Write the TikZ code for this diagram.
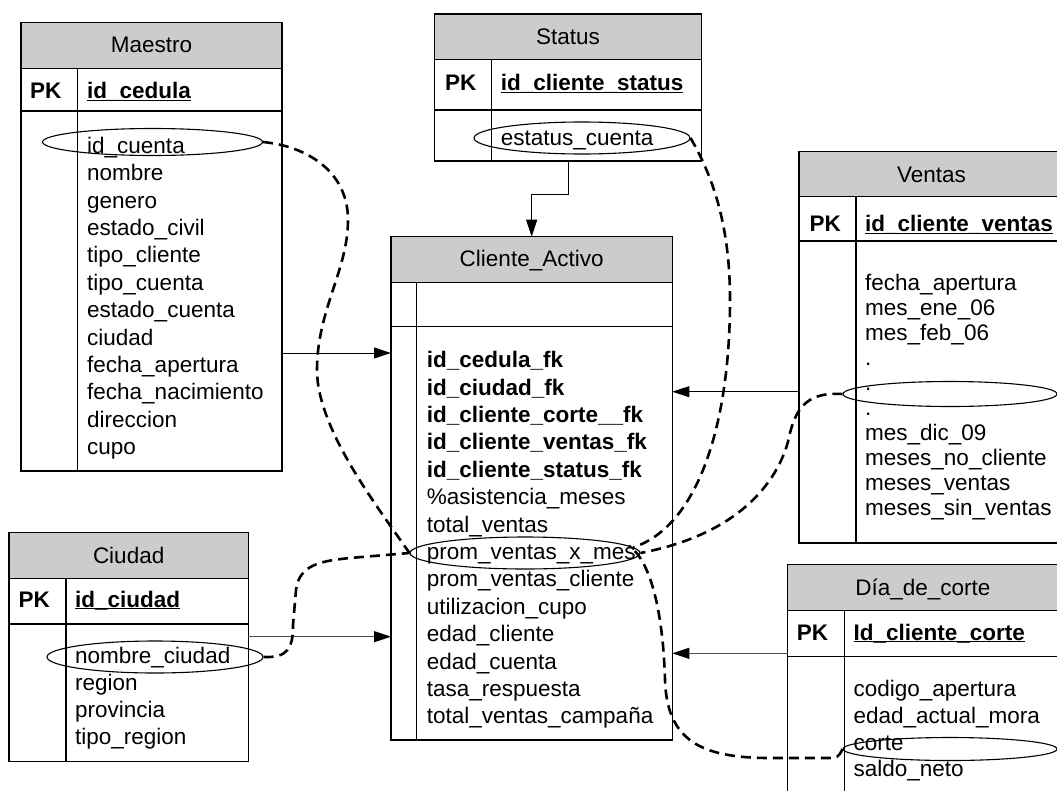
\documentclass[tikz,border=0pt]{standalone}
\usepackage{fontspec}
\setmainfont{Liberation Sans}
\usetikzlibrary{arrows.meta,shapes.geometric}

% primary-key field: bold and underlined
\newcommand\pkfield[1]{\underline{\smash{\textbf{#1}}}}

\tikzset{
  erframe/.style={draw=black, line width=1.3pt, inner sep=0pt, outer sep=0pt},
  erhead/.style={fill=black!20},
  erline/.style={line width=1.3pt},
  ertitle/.style={anchor=base, inner sep=0pt, font=\fontsize{22.5}{27}\selectfont},
  erfield/.style={anchor=base west, inner sep=0pt, font=\fontsize{22.5}{27}\selectfont},
  erkey/.style={anchor=base west, inner sep=0pt, font=\fontsize{22.5}{27}\selectfont\bfseries},
  erhl/.style={draw, ellipse, line width=1.1pt, inner sep=0pt},
  erfk/.style={line width=1pt, -{Triangle[length=17pt,width=11pt]}},
  erfkgray/.style={line width=1pt, draw=black!70, -{Triangle[length=17pt,width=11pt,color=black]}},
  erlink/.style={line width=2.6pt, dash pattern=on 10pt off 6pt},
}

% table frame: name, left, top, right, header bottom, key row bottom, bottom, divider x
\newcommand\erbox[8]{%
  \fill[erhead] (#2,#3) rectangle (#4,#5);
  \draw[erline] (#2,#5) -- (#4,#5) (#2,#6) -- (#4,#6) (#8,#5) -- (#8,#7);
  \node[erframe, minimum width={(#4-#2)*1pt}, minimum height={(#7-#3)*1pt}]
    (#1) at ({(#2+#4)/2},{(#3+#7)/2}) {};
}

\begin{document}
\begin{tikzpicture}[x=1pt,y=-1pt]
\useasboundingbox (0,0) rectangle (1057,790);
\clip (0,0) rectangle (1057,790);

% ---------- Maestro ----------
\erbox{maestro}{21}{22.7}{282}{68.3}{111}{471}{77.7}
\node[ertitle] (maestro-t) at (151.5,52.7) {Maestro};
\node[erkey] (maestro-pk) at (30,98.3) {PK};
\node[erfield] (maestro-id) at (87,98.3) {\pkfield{id\_cedula}};
\foreach \t [count=\i from 0] in {id\_cuenta,nombre,genero,estado\_civil,tipo\_cliente,tipo\_cuenta,estado\_cuenta,ciudad,fecha\_apertura,fecha\_nacimiento,direccion,cupo}
  \node[erfield] (maestro-f\i) at (87,{153.3+27.4*\i}) {\t};

% ---------- Status ----------
\erbox{status}{434.3}{14}{701.7}{59.3}{110}{161}{491.7}
\node[ertitle] (status-t) at (568,44.3) {Status};
\node[erkey] (status-pk) at (445,90.7) {PK};
\node[erfield] (status-id) at (500.7,90.7) {\pkfield{id\_cliente\_status}};
\node[erfield] (status-f0) at (500.7,145.7) {estatus\_cuenta};

% ---------- Cliente_Activo ----------
\erbox{cli}{391}{236.7}{672.3}{282.3}{326.7}{740}{416.7}
\node[ertitle] (cli-t) at (531.65,266.7) {Cliente\_Activo};
\foreach \t [count=\i from 0] in {id\_cedula\_fk,id\_ciudad\_fk,id\_cliente\_corte\_\_fk,id\_cliente\_ventas\_fk,id\_cliente\_status\_fk}
  \node[erkey] (cli-k\i) at (426.7,{367.7+27.4*\i}) {\t};
\foreach \t [count=\i from 5] in {\%asistencia\_meses,total\_ventas,prom\_ventas\_x\_mes,prom\_ventas\_cliente,utilizacion\_cupo,edad\_cliente,edad\_cuenta,tasa\_respuesta,total\_ventas\_campaña}
  \node[erfield] (cli-f\i) at (426.7,{367.7+27.4*\i}) {\t};

% ---------- Ventas ----------
\erbox{ventas}{799}{151.7}{1064}{196.7}{241}{543}{856}
\node[ertitle] (ventas-t) at (931.5,182.3) {Ventas};
\node[erkey] (ventas-pk) at (809.3,231.7) {PK};
\node[erfield] (ventas-id) at (865,231.7) {\pkfield{id\_cliente\_ventas}};
\foreach \t [count=\i from 0] in {fecha\_apertura,mes\_ene\_06,mes\_feb\_06,.,.,.,mes\_dic\_09,meses\_no\_cliente,meses\_ventas,meses\_sin\_ventas}
  \node[erfield] (ventas-f\i) at (865,{290+25.1*\i}) {\t};

% ---------- Ciudad ----------
\erbox{ciudad}{9}{532.7}{248.3}{578.3}{624}{761.7}{66}
\node[ertitle] (ciudad-t) at (128.65,563.3) {Ciudad};
\node[erkey] (ciudad-pk) at (18.3,607) {PK};
\node[erfield] (ciudad-id) at (75,607) {\pkfield{id\_ciudad}};
\foreach \t [count=\i from 0] in {nombre\_ciudad,region,provincia,tipo\_region}
  \node[erfield] (ciudad-f\i) at (75,{663.3+27.2*\i}) {\t};

% ---------- Día_de_corte ----------
\erbox{dia}{787.7}{564.3}{1058}{610.7}{656.7}{800}{844.3}
\node[ertitle] (dia-t) at (922.8,595) {Día\_de\_corte};
\node[erkey] (dia-pk) at (796.7,640) {PK};
\node[erfield] (dia-id) at (853.3,640) {\pkfield{Id\_cliente\_corte}};
\foreach \t [count=\i from 0] in {codigo\_apertura,edad\_actual\_mora,corte,saldo\_neto}
  \node[erfield] (dia-f\i) at (853.3,{696.7+26.7*\i}) {\t};

% ---------- highlighted fields ----------
\node[erhl, minimum width=220pt, minimum height=27pt] (e-cuenta) at (152.5,142) {};
\node[erhl, minimum width=216pt, minimum height=32pt] (e-status) at (582,138) {};
\node[erhl, minimum width=230pt, minimum height=32pt] (e-prom) at (525,553) {};
\node[erhl, minimum width=214pt, minimum height=25pt] (e-ventas) at (950,394) {};
\node[erhl, minimum width=216pt, minimum height=32pt] (e-ciudad) at (155,657) {};
\node[erhl, minimum width=214pt, minimum height=23pt] (e-corte) at (950,749) {};

% ---------- foreign-key arrows ----------
\coordinate (y353) at (0,353);
\coordinate (y392) at (0,391.7);
\coordinate (y637) at (0,636.7);
\coordinate (y653) at (0,653.3);
\draw[erfk] (maestro.east |- y353) -- (cli.west |- y353);
\draw[erfkgray] (ciudad.east |- y637) -- (cli.west |- y637);
\draw[erfk] (ventas.west |- y392) -- (cli.east |- y392);
\draw[erfkgray] (dia.west |- y653) -- (cli.east |- y653);
\draw[erfk] (status.south) -- ++(0,33) -| (cli.north);

% ---------- dashed links to prom_ventas_x_mes ----------
\draw[erlink] (e-cuenta.east) .. controls (305,146) and (348,170) .. (348,220)
  .. controls (348,270) and (317,310) .. (317,370)
  .. controls (317,430) and (380,510) .. (e-prom.west);
\draw[erlink] (e-status.east) .. controls (715,180) and (730,230) .. (730,300)
  .. controls (730,420) and (700,525) .. (e-prom.3);
\draw[erlink] (e-ventas.west) .. controls (810,392) and (797,405) .. (790,433)
  .. controls (785,460) and (760,530) .. (e-prom.east);
\draw[erlink] (e-corte.west) .. controls (838,758) .. (825,758) -- (770,758)
  .. controls (700,758) and (667,740) .. (665,680)
  .. controls (663,610) and (650,560) .. (e-prom.4);
\draw[erlink] (e-ciudad.east) .. controls (288,658) and (293,648) .. (293,625)
  -- (296,590) .. controls (299,565) and (320,561) .. (350,558) -- (e-prom.west);
\end{tikzpicture}
\end{document}
